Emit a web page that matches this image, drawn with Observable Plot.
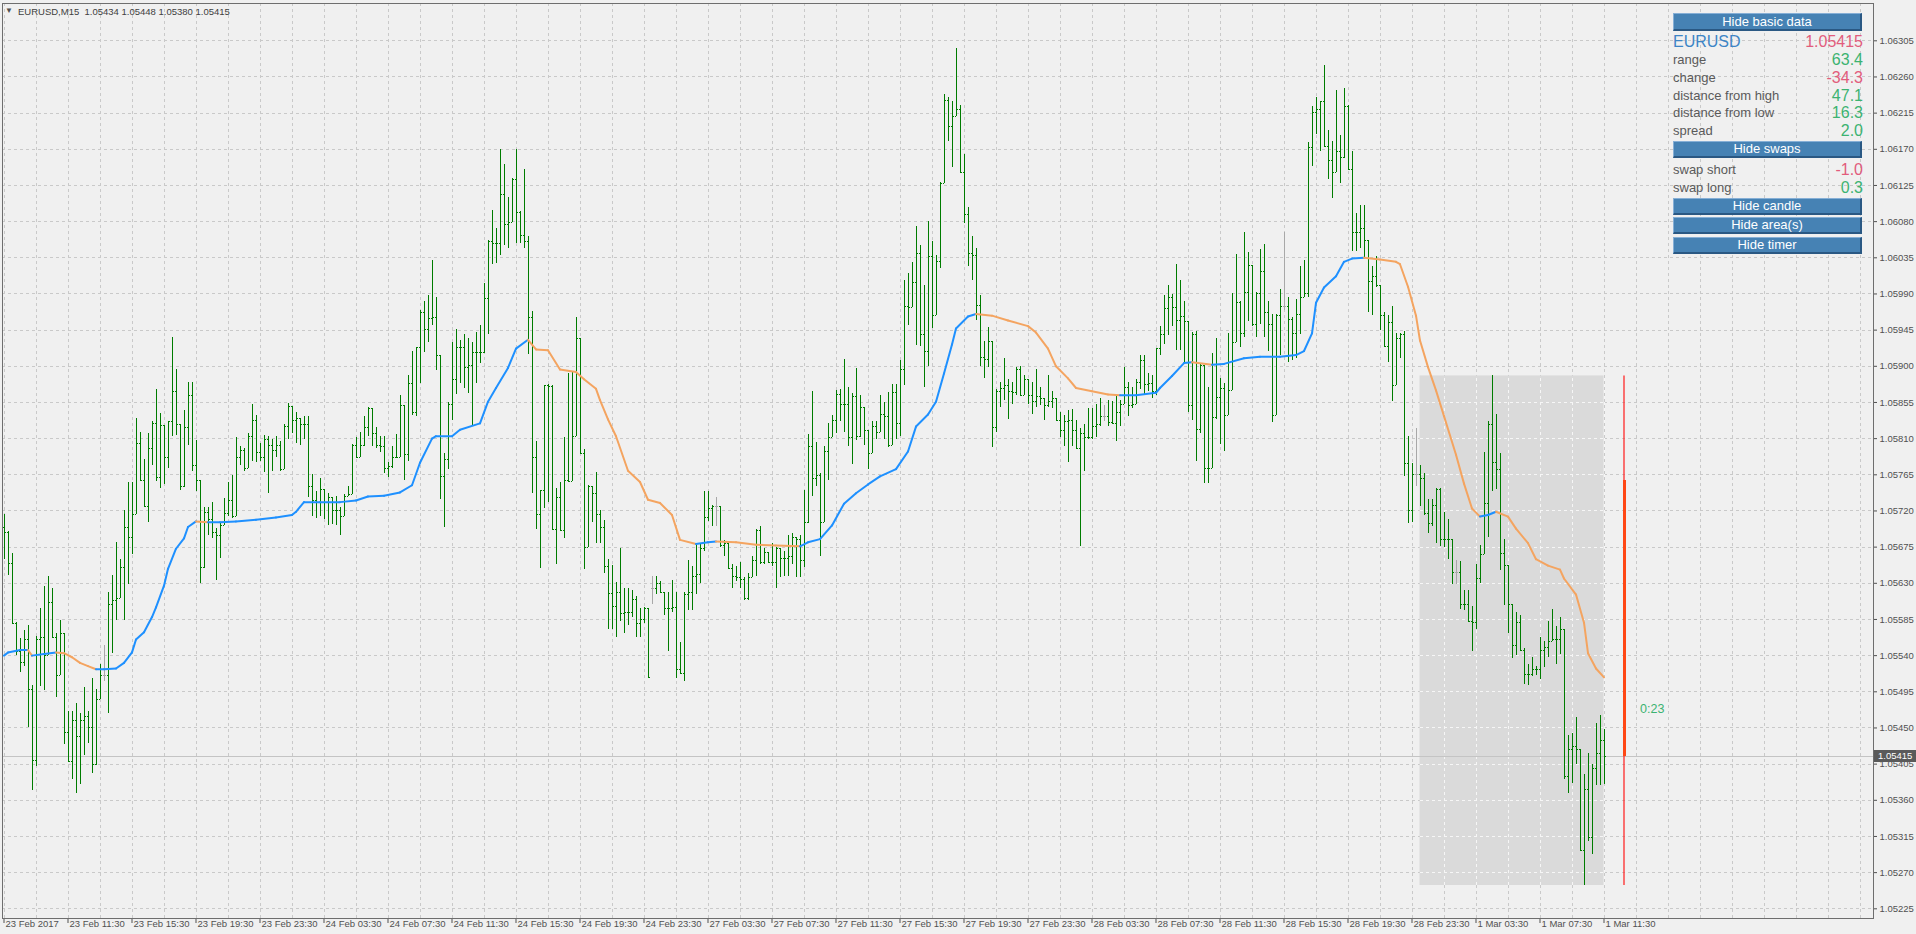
<!DOCTYPE html>
<html>
<head>
<meta charset="utf-8">
<script src="https://cdn.jsdelivr.net/npm/d3@7"></script>
<script src="https://cdn.jsdelivr.net/npm/@observablehq/plot@0.6"></script>
<style>
html,body{margin:0;padding:0;background:#f0f0f0;overflow:hidden;}
#wrap{position:relative;width:1916px;height:934px;font-family:"Liberation Sans",Arial,sans-serif;}
#wrap svg{position:absolute;left:0;top:0;}
.ov{position:absolute;white-space:nowrap;}
.btn{position:absolute;left:1673px;width:186px;background:#4682b4;border-top:1px solid #86afd6;border-left:1px solid #86afd6;border-bottom:2px solid #2a5883;border-right:2px solid #2a5883;color:#fff;font-size:13px;text-align:center;}
.row{position:absolute;left:1673px;width:190px;height:18px;line-height:18px;}
.row .k{position:absolute;left:0;top:0;color:#5a5a5a;font-size:13px;}
.row .v{position:absolute;right:0;top:0;font-size:16px;}
</style>
</head>
<body>
<div id="wrap"></div>
<script>
// ---------- DATA (prices in points above 1.05000) ----------
const symbol = "EURUSD";
const timeframe = "M15";
const timeLabels = ["23 Feb 2017","23 Feb 11:30","23 Feb 15:30","23 Feb 19:30","23 Feb 23:30",
  "24 Feb 03:30","24 Feb 07:30","24 Feb 11:30","24 Feb 15:30","24 Feb 19:30","24 Feb 23:30",
  "27 Feb 03:30","27 Feb 07:30","27 Feb 11:30","27 Feb 15:30","27 Feb 19:30","27 Feb 23:30",
  "28 Feb 03:30","28 Feb 07:30","28 Feb 11:30","28 Feb 15:30","28 Feb 19:30","28 Feb 23:30",
  "1 Mar 03:30","1 Mar 07:30","1 Mar 11:30"];
const barsPerLabel = 16;
const barsPerGrid = 8;
const priceTicks = [225,270,315,360,405,450,495,540,585,630,675,720,765,810,855,900,945,990,1035,1080,1125,1170,1215,1260,1305];

const firstOpen = 700;
const highs = [
715,694,667,581,561,571,578,503,564,599, 626,638,624,568,584,563,471,471,481,468,
500,471,512,498,529,553,618,640,681,660, 720,756,756,835,818,784,817,831,871,841,
826,831,936,896,828,845,880,880,808,758, 724,724,731,698,706,735,755,764,812,800,
798,817,853,839,804,814,813,809,813,806, 827,854,839,842,835,837,837,765,744,760,
747,742,737,738,724,740,751,803,811,818, 837,849,848,824,813,813,780,800,815,864,
845,889,918,924,969,981,988,1032,986,908, 791,855,930,946,932,939,934,929,942,951,
1003,1057,1094,1072,1170,1151,1110,1134,1170,1092, 1145,1061,968,806,746,876,877,876,748,756,
811,891,893,961,931,797,752,751,768,721, 708,659,652,631,673,623,624,621,613,599,
600,599,638,638,632,618,618,634,618,556, 619,658,651,680,678,744,744,727,737,711,
683,678,654,651,656,637,642,663,697,701, 673,668,680,675,673,670,689,692,687,689,
746,815,869,805,767,800,829,839,870,871, 909,873,866,897,864,849,820,831,831,864,
855,867,877,877,907,1007,1015,1029,1074,1050, 1000,1080,1055,1038,1129,1238,1235,1229,1296,1224,
1163,1097,1061,1046,988,931,948,893,871,880, 910,883,880,899,900,888,884,880,896,873,
860,888,869,860,842,839,845,846,833,822, 827,847,847,853,860,851,858,856,863,858,
898,880,873,884,913,913,891,888,922,949, 988,1000,989,1027,1007,981,956,942,943,903,
899,874,916,935,885,879,941,990,1039,981, 1067,1041,983,992,1045,1051,981,964,965,996,
1067,985,961,983,1024,1032,1178,1223,1234,1230, 1274,1194,1180,1243,1187,1246,1225,1167,1090,1100,
1100,1056,1024,1036,1001,967,963,974,941,941, 943,813,779,822,776,767,734,734,748,748,
718,710,685,658,657,621,621,601,654,677, 793,831,888,840,791,685,618,594,594,590,
549,529,538,526,563,558,583,598,576,588, 572,441,443,463,423,392,418,405,456,465,
448];
const lows = [
659,640,580,540,519,527,451,372,402,501, 496,551,563,488,515,429,408,386,369,380,
416,431,393,403,489,508,468,543,584,611, 584,629,666,715,758,725,706,777,757,748,
753,773,813,814,745,749,802,769,744,630, 649,690,686,633,661,703,713,711,713,777,
769,774,782,780,781,768,742,769,786,769, 774,809,817,804,802,809,737,713,711,713,
709,702,703,702,689,713,738,746,786,788, 800,813,800,798,793,766,762,773,786,787,
758,782,839,837,879,917,929,951,895,734, 699,772,832,865,879,872,866,825,879,904,
916,940,1027,1028,1038,1050,1046,1084,1053,1053, 1046,915,742,697,649,723,730,697,654,696,
686,756,774,829,792,647,674,706,680,680, 642,572,572,562,583,568,578,587,562,563,
580,513,604,616,618,590,545,594,511,516, 508,596,596,616,630,670,707,701,701,675,
663,647,623,632,623,609,609,639,639,654, 654,655,651,623,637,639,639,654,637,637,
650,705,738,750,663,767,758,811,816,831, 818,800,778,808,811,802,772,800,809,822,
809,799,803,809,813,876,951,973,926,925, 873,900,947,964,1022,1127,1180,1147,1211,1144,
1078,1024,1007,957,900,885,898,799,818,849, 858,834,853,864,864,864,853,840,849,851,
833,849,847,831,811,800,780,800,796,676, 769,809,809,811,825,831,825,827,807,825,
856,838,847,864,871,864,869,860,864,913, 927,938,949,920,920,904,843,832,781,816,
754,754,814,834,803,794,839,923,932,923, 936,956,950,936,952,936,919,830,923,914,
970,905,907,910,939,985,985,1149,1189,1167, 1174,1132,1109,1141,1127,1158,1145,1043,1043,1047,
1034,967,963,998,945,923,905,856,903,910, 763,705,706,751,725,714,692,701,680,676,
674,659,629,628,598,596,581,545,573,630, 687,687,744,747,646,602,567,537,540,547,
504,503,514,515,510,525,538,558,529,541, 386,368,381,405,296,254,309,292,378,378,
380];
const closes = [
693,655,580,545,532,560,498,409,560,563, 540,606,563,515,567,444,408,459,439,459,
464,451,404,485,515,515,603,609,611,650, 700,687,715,804,758,725,798,829,762,826,
786,831,869,828,751,824,864,777,758,650, 718,709,693,690,702,717,733,713,786,795,
773,813,833,793,786,809,802,795,802,772, 825,850,833,835,828,828,751,733,731,747,
731,737,720,720,713,738,741,802,787,802, 824,848,817,802,800,773,775,787,787,851,
790,879,843,924,967,946,960,961,913,763, 784,853,884,924,924,898,901,917,917,917,
984,1055,1053,1053,1114,1076,1079,1133,1091,1063, 1055,961,787,716,746,876,875,697,737,696,
758,757,813,935,792,675,751,742,716,699, 651,617,601,618,593,594,594,610,580,585,
599,513,624,630,619,599,599,600,523,518, 616,618,638,641,673,712,723,725,725,677,
680,648,639,637,635,611,637,658,696,656, 668,656,656,673,661,661,663,687,685,658,
706,800,760,764,706,794,811,833,865,853, 852,812,862,813,849,820,791,825,818,840,
838,801,867,829,896,975,973,1004,1040,939, 918,1037,963,1031,1127,1231,1198,1211,1219,1141,
1089,1040,1038,976,911,909,931,824,869,873, 876,869,868,896,864,884,864,856,862,860,
851,856,860,833,820,831,833,820,798,817, 811,811,825,827,838,838,830,829,842,853,
874,851,853,880,907,877,879,869,922,940, 972,985,973,957,962,956,851,940,821,901,
773,773,836,861,872,839,870,930,979,941, 992,1025,952,990,1018,967,952,839,963,974,
974,958,941,965,985,990,1172,1216,1220,1229, 1174,1156,1141,1167,1160,1223,1145,1067,1067,1072,
1056,1006,1012,1001,963,925,954,876,935,940, 779,720,765,765,760,717,705,727,747,685,
685,685,643,643,603,603,583,581,636,666, 729,827,780,771,667,652,603,552,581,547,
516,516,523,523,547,550,558,560,560,572, 390,423,427,423,297,374,314,399,418,434,
415];
const dojiBars = [25,162,178,275,320,353,363];

// moving average
const maBars = [0,1,4,6,7,10,13,15,17,19, 21,23,25,28,30,32,33,35,37,38, 40,41,43,45,46,48,51,54,58,63,
  68,72,73,75,79,84,88,91,95,99, 102,104,107,108,112,114,119,121,123,126, 128,131,133,136,139,143,145,148,149,151,
  153,156,159,161,164,167,169,173,176,178, 183,188,193,199,201,204,207,210,213,216, 219,223,226,228,231,233,235,237,238,241,
  243,247,251,256,258,261,263,266,268,272, 276,279,283,288,289,292,295,297,302,305, 310,314,319,323,325,327,328,330,333,335,
  337,340,344,348,349,351,353,354,356,358, 360,363,365,367,369,371,373,376,378,381, 383,386,389,390,393,395,396,398,400];
const maValues = [540,544,547,547,540,542,544,543,538,531, 527,523,523,524,531,544,560,569,588,600, 627,648,673,686,700,707,706,706,707,709,
  712,715,719,731,731,731,733,738,739,743, 752,780,810,813,813,821,829,856,873,898, 922,933,921,920,896,893,884,872,858,834,
  813,770,756,734,730,715,684,679,681,682, 681,678,677,676,681,685,702,729,742,753, 763,772,794,825,840,856,891,927,947,962,
  965,963,957,950,942,922,900,885,873,869, 865,864,864,867,873,888,904,905,902,903, 910,912,912,914,919,941,979,998,1012,1030,
  1034,1035,1033,1030,1027,999,963,932,899,870, 838,790,754,723,713,715,719,713,698,680, 660,652,647,636,616,581,543,524,513];

const dayStartBar = 354;     // first M15 bar of 1 Mar
const dayOpen = 758;         // daily candle open
const timerText = "0:23";
const infoRows = [["range","63.4"],["change","-34.3"],["distance from high","47.1"],["distance from low","16.3"],["spread","2.0"]];
const swapRows = [["swap short","-1.0"],["swap long","0.3"]];
const buttons = ["Hide basic data","Hide swaps","Hide candle","Hide area(s)","Hide timer"];

// ---------- BUILD ----------
const fmt = v => (1.05 + v / 1e5).toFixed(5);
const bars = highs.map((h0, i) => {
  const c = closes[i];
  const doji = dojiBars.includes(i);
  const o = doji ? c : (i === 0 ? firstOpen : closes[i - 1]);
  return {i, o, c, h: Math.max(h0, o, c), l: Math.min(lows[i], o, c), doji};
});
const lastBar = bars.length - 1;
const last = bars[lastBar];
const dayBars = bars.filter(b => b.i >= dayStartBar);
const dayHigh = d3.max(dayBars, b => b.h);
const dayLow = d3.min(dayBars, b => b.l);
const candleBar = lastBar + 5;

const segs = [];
for (let k = 0; k < maBars.length - 1; k++) {
  segs.push({x1: maBars[k], y1: maValues[k], x2: maBars[k + 1], y2: maValues[k + 1], up: maValues[k + 1] >= maValues[k]});
}

const xDomain = [-0.375, 467.375];
const yDomain = [212.93, 1351.41];
const vGrid = d3.range(0, xDomain[1], barsPerGrid);
const labelData = timeLabels.map((t, k) => ({i: k * barsPerLabel, t}));
const GRID = "#c9c9c9", DASH = "3,3", BAR = "#007c00";

const chart = Plot.plot({
  width: 1916, height: 934,
  marginLeft: 2, marginRight: 43, marginTop: 3, marginBottom: 16,
  style: {background: "transparent", fontFamily: "'Liberation Sans', Arial, sans-serif", fontSize: "9.5px", color: "#505050"},
  x: {domain: xDomain, axis: "bottom", ticks: labelData.map(d => d.i), tickFormat: () => "", tickSize: 5, label: null},
  y: {domain: yDomain, axis: "right", ticks: priceTicks, tickFormat: fmt, tickSize: 3, tickPadding: 3, label: null},
  marks: [
    Plot.ruleY(priceTicks, {stroke: GRID, strokeDasharray: DASH, shapeRendering: "crispEdges"}),
    Plot.ruleX(vGrid, {stroke: GRID, strokeDasharray: DASH, shapeRendering: "crispEdges"}),
    Plot.rect([{x1: dayStartBar, x2: lastBar, y1: dayLow, y2: dayHigh}], {x1: "x1", x2: "x2", y1: "y1", y2: "y2", fill: "#dadada"}),
    Plot.ruleY(priceTicks.filter(v => v > dayLow && v < dayHigh), {y: d => d, x1: () => dayStartBar, x2: () => lastBar, stroke: "#f6f6f6", strokeDasharray: DASH, shapeRendering: "crispEdges"}),
    Plot.ruleX(vGrid.filter(v => v > dayStartBar && v <= lastBar), {x: d => d, y1: () => dayLow, y2: () => dayHigh, stroke: "#f6f6f6", strokeDasharray: DASH, shapeRendering: "crispEdges"}),
    Plot.ruleY([last.c], {stroke: "#c4c4c4", shapeRendering: "crispEdges"}),
    Plot.ruleX(bars.filter(d => !d.doji), {x: "i", y1: "l", y2: "h", stroke: BAR, strokeWidth: 1, shapeRendering: "crispEdges"}),
    Plot.link(bars.filter(d => !d.doji), {x1: d => d.i - 0.375, x2: "i", y1: "o", y2: "o", stroke: BAR, shapeRendering: "crispEdges"}),
    Plot.link(bars.filter(d => !d.doji), {x1: "i", x2: d => d.i + 0.375, y1: "c", y2: "c", stroke: BAR, shapeRendering: "crispEdges"}),
    Plot.ruleX(bars.filter(d => d.doji), {x: "i", y1: "l", y2: "h", stroke: "#a8a8a8", strokeWidth: 1, shapeRendering: "crispEdges"}),
    Plot.link(bars.filter(d => d.doji), {x1: d => d.i - 0.375, x2: d => d.i + 0.375, y1: "c", y2: "c", stroke: "#a8a8a8", shapeRendering: "crispEdges"}),
    Plot.link(segs, {x1: "x1", y1: "y1", x2: "x2", y2: "y2", stroke: d => d.up ? "#1e90ff" : "#f4a460", strokeWidth: 2, strokeLinecap: "round"}),
    Plot.ruleX([candleBar], {x: d => d, y1: () => dayLow, y2: () => dayHigh, stroke: "#ff1a1a", strokeWidth: 1.2}),
    Plot.ruleX([candleBar], {x: d => d, y1: () => dayOpen, y2: () => last.c, stroke: "#ff4714", strokeWidth: 3, shapeRendering: "crispEdges"}),
    Plot.text([timerText], {x: () => candleBar + 4, y: () => last.c + 59, text: d => d, fill: "#3cb371", fontSize: 12.5, textAnchor: "start"}),
    Plot.text(labelData, {x: "i", text: "t", frameAnchor: "bottom", dy: 8, dx: 1.5, textAnchor: "start", fill: "#505050", fontSize: 9.5}),
    Plot.frame({stroke: "#6e6e6e", shapeRendering: "crispEdges"})
  ]
});
const wrap = document.getElementById("wrap");
wrap.appendChild(chart);

// ---------- overlays ----------
function add(html, cls, css) {
  const d = document.createElement("div");
  d.className = cls; d.innerHTML = html;
  Object.assign(d.style, css);
  wrap.appendChild(d);
  return d;
}
const yPix = d3.scaleLinear(yDomain, [934 - 16, 3]);
add(fmt(last.c), "ov", {left: "1874px", top: (yPix(last.c) - 6) + "px", width: "42px", height: "12px", lineHeight: "12px",
  background: "#5a5a5a", color: "#fff", fontSize: "9.5px", paddingLeft: "4px", boxSizing: "border-box"});
add("&#9660;", "ov", {left: "5px", top: "6px", fontSize: "8px", color: "#505050", lineHeight: "10px"});
add(`${symbol},${timeframe}&nbsp; ${fmt(last.o)} ${fmt(last.h)} ${fmt(last.l)} ${fmt(last.c)}`, "ov",
  {left: "18px", top: "5px", fontSize: "9.5px", color: "#404040", lineHeight: "13px"});

const posColor = "#3cb371", negColor = "#e25c7c";
const btnTops = [13, 141, 198, 217, 237];
buttons.forEach((b, k) => add(b, "btn", {top: btnTops[k] + "px", height: (k === 0 ? 15 : 14) + "px", lineHeight: (k === 0 ? 15 : 14) + "px"}));
add(`<span class="k" style="color:#3d85c6;font-size:16px">${symbol}</span><span class="v" style="color:${negColor}">${fmt(last.c)}</span>`, "row", {top: "33px"});
const rowTops = [51, 68.5, 86.5, 104, 122];
infoRows.forEach(([k, v], j) => add(`<span class="k">${k}</span><span class="v" style="color:${v.startsWith("-") ? negColor : posColor}">${v}</span>`, "row", {top: rowTops[j] + "px"}));
const swapTops = [161, 178.5];
swapRows.forEach(([k, v], j) => add(`<span class="k">${k}</span><span class="v" style="color:${v.startsWith("-") ? negColor : posColor}">${v}</span>`, "row", {top: swapTops[j] + "px"}));
</script>
</body>
</html>
